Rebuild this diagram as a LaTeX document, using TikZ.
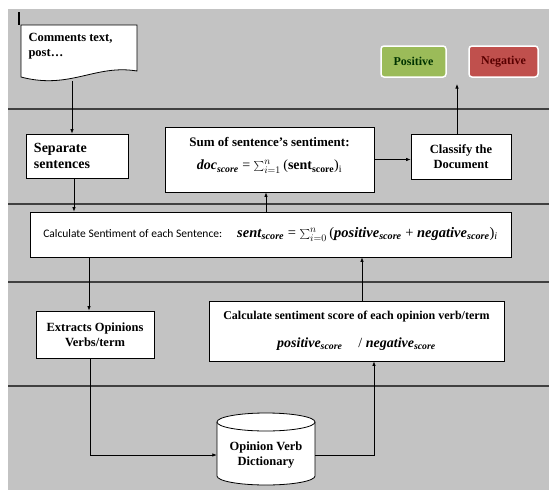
\documentclass[tikz,border=0pt]{standalone}
\usepackage{fontspec}
\setmainfont{Liberation Serif}
\newfontfamily\califont{Carlito}
\usetikzlibrary{arrows.meta}

\definecolor{lanegray}{RGB}{195,195,195}
\definecolor{posgreen}{RGB}{155,187,89}
\definecolor{negred}{RGB}{192,80,77}

\newcommand{\bisub}[2]{\textbf{\textit{#1}}\textsubscript{\textbf{\textit{#2}}}}
\newsavebox{\docformula}
\newsavebox{\sentformula}
\newsavebox{\termformula}

\tikzset{
  procbox/.style = {draw=black, fill=white, line width=0.8pt, font=\bfseries, align=center, inner sep=2pt},
  flow/.style    = {-{Latex[length=4.5pt,width=3.5pt]}, line width=0.7pt},
  lane/.style    = {draw=black!75, line width=1.1pt},
  tag/.style     = {draw=white, line width=1.5pt, rounded corners=3pt, minimum width=#1, minimum height=31pt,
                    font=\bfseries\fontsize{12}{14}\selectfont},
}

\begin{document}
\sbox{\docformula}{\fontsize{14}{15}\selectfont\bisub{doc}{score} = $\sum_{i=1}^{n}\,$(\textbf{sent}\textsubscript{\textbf{score}})\textsubscript{i}}
\sbox{\sentformula}{\fontsize{14.5}{16}\selectfont\bisub{sent}{score} = $\sum_{i=0}^{n}\,$(\bisub{positive}{score} + \bisub{negative}{score})\textsubscript{\textit{i}}}
\sbox{\termformula}{\fontsize{14}{15}\selectfont\bisub{positive}{score}\hspace{16pt}/ \bisub{negative}{score}}
\begin{tikzpicture}[x=1pt, y=-1pt]
      \useasboundingbox (0,0) rectangle (549,490);
      \fill[white]    (0,0) rectangle (549,490);
      \fill[lanegray] (8,9) rectangle (549,490);
      \draw[line width=1.5pt] (19,12) -- (19,25);
      \foreach \y in {109,204,282,386} \draw[lane] (8,\y) -- (549,\y);

      \draw[fill=white, line width=0.8pt] (21,25) -- (137,25) -- (137,71) .. controls (95,64) and (70,90) .. (21,77) -- cycle;
      \node[font=\bfseries\fontsize{12.5}{15}\selectfont, align=left, anchor=north west] at (25,30) (doc) {Comments text,\\post\ldots};
      \coordinate (docb)  at (72,81);
      \coordinate (clsup) at (457,84);

      \node[tag=65pt, fill=posgreen, text=black!80!green] at (413.5,61.5) (pos) {Positive};
      \node[tag=69pt, fill=negred,   text=red!35!black]   at (503.5,61.5) (neg) {Negative};

      \node[procbox, minimum width=102pt, minimum height=44pt, text width=86pt, align=left, font=\bfseries\fontsize{14}{16}\selectfont] at (77,156) (sep) {Separate\\sentences};
      \node[procbox, minimum width=209pt, minimum height=65pt, font=\bfseries\fontsize{13}{15}\selectfont] at (269.5,159.5) (sumbox) {Sum of sentence’s sentiment:\rule[-13pt]{0pt}{13pt}\\\usebox{\docformula}\rule[-12pt]{0pt}{12pt}};
      \node[procbox, minimum width=100pt, minimum height=45pt, font=\bfseries\fontsize{12.5}{15}\selectfont] at (461,156.5) (cls) {Classify the\\Document};

      \node[procbox, minimum width=481pt, minimum height=45pt, font=\fontsize{11.5}{13}\selectfont] at (270.5,234.5) (calc) {\califont Calculate Sentiment of each Sentence:\hspace{15pt}\usebox{\sentformula}};

      \node[procbox, minimum width=118pt, minimum height=47pt, font=\bfseries\fontsize{12.5}{15}\selectfont] at (95,334.5) (ext) {Extracts Opinions\\Verbs/term};
      \node[procbox, minimum width=295pt, minimum height=60pt, font=\bfseries\fontsize{12}{14}\selectfont] at (356.5,331) (score) {Calculate sentiment score of each opinion verb/term\rule[-17pt]{0pt}{17pt}\\\usebox{\termformula}};

      \draw[fill=white, line width=0.8pt] (217,422) -- (217,476) arc[start angle=180, end angle=0, x radius=49, y radius=9] -- (315,422);
      \draw[fill=white, line width=0.8pt] (266,422) ellipse [x radius=49, y radius=9];
      \node[minimum width=98pt, font=\bfseries\fontsize{12.5}{15}\selectfont, align=center] at (266,455) (dict) {Opinion Verb\\Dictionary};

      \draw[flow] (docb) -- (docb |- sep.north);
      \draw[flow] ([xshift=-3pt]sep.south) -- ([xshift=-3pt]sep.south |- calc.north);
      \draw[flow] ([xshift=-3.5pt]sumbox.south |- calc.north) -- ([xshift=-3.5pt]sumbox.south);
      \draw[flow] (sumbox.east) -- (sumbox.east -| cls.west);
      \draw[flow] (clsup |- cls.north) -- (clsup);
      \draw[flow] ([xshift=-6pt]ext.north |- calc.south) -- ([xshift=-6pt]ext.north);
      \draw[flow] ([xshift=5.5pt]score.north) -- ([xshift=5.5pt]score.north |- calc.south);
      \draw[flow] ([xshift=-5pt]ext.south) |- (dict.west);
      \draw[flow] (dict.east) -| ([xshift=17.5pt]score.south);
\end{tikzpicture}
\end{document}
